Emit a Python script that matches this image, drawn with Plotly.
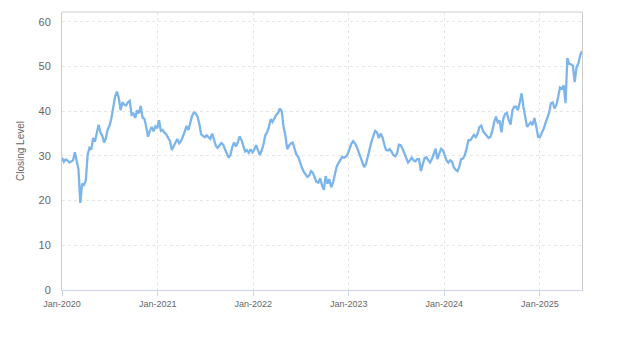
import pandas as pd
import plotly.graph_objects as go

# Weekly closing levels, Jan-2020 through mid Jun-2025
start_date = "2020-01-01"
closing_level = [
    # 2020
    29.6, 28.7, 29.2, 29.0, 28.5, 28.8, 29.0, 30.8, 28.6, 27.0,
    19.5, 23.8, 23.5, 24.5, 30.2, 31.8, 31.4, 34.0, 33.2, 35.1,
    37.0, 35.2, 34.5, 33.0, 34.0, 36.0, 36.8, 38.5, 40.8, 43.3,
    44.4, 43.0, 40.2, 42.0, 41.5, 41.3, 42.0, 42.3, 39.2, 39.5,
    38.5, 40.2, 39.5, 41.2, 38.6, 38.3, 36.5, 34.3, 35.6, 36.5,
    35.5, 36.6,
    # 2021
    36.2, 38.0, 35.6, 35.8, 35.2, 34.8, 34.0, 33.3,
    31.3, 32.0, 33.0, 33.8, 32.8, 33.3, 34.2, 35.4, 36.7, 35.8,
    37.3, 38.9, 39.7, 39.5, 38.8, 37.2, 34.8, 34.5, 34.2, 34.6,
    34.3, 33.8, 35.0, 33.5, 32.3, 31.8, 32.4, 32.9, 32.5, 31.4,
    30.3, 29.6, 30.2, 32.0, 33.0, 32.1, 33.0, 34.4, 33.6, 32.3,
    31.0, 31.3, 30.7, 31.5,
    # 2022
    30.8, 31.4, 32.4, 31.3, 30.2, 31.2,
    32.5, 34.6, 35.3, 36.5, 38.2, 37.6, 38.5, 39.2, 39.6, 40.6,
    40.0, 36.5, 34.6, 31.5, 32.3, 32.8, 33.0, 31.5, 30.3, 29.8,
    28.5, 27.4, 26.5, 26.0, 25.3, 25.6, 26.6, 26.2, 25.0, 24.2,
    24.0, 25.0, 23.4, 22.4, 25.5, 23.8, 24.8, 23.0, 24.0, 26.2,
    27.6, 28.4, 29.0, 29.8, 29.6, 29.8, 30.4,
    # 2023
    31.8, 32.7, 33.3,
    32.8, 32.0, 30.8, 29.5, 28.6, 27.5, 28.2, 30.2, 31.5, 33.2,
    34.5, 35.6, 35.3, 34.0, 35.0, 34.2, 32.6, 31.3, 31.2, 31.5,
    30.9, 30.2, 29.9, 30.6, 32.5, 32.4, 31.6, 30.6, 29.5, 28.5,
    29.0, 29.6, 29.0, 28.8, 29.3, 29.3, 26.6, 28.3, 29.5, 29.7,
    29.1, 28.5, 29.3, 30.6, 31.6, 29.3, 30.6, 31.6, 31.3,
    # 2024
    30.3,
    29.0, 28.5, 29.0, 28.7, 27.4, 26.9, 26.6, 27.6, 29.3, 29.4,
    30.2, 31.7, 33.5, 33.5, 34.2, 34.7, 34.2, 35.0, 36.5, 36.8,
    35.5, 35.0, 34.6, 34.0, 34.3, 35.6, 37.5, 38.8, 37.5, 37.9,
    35.3, 38.3, 39.4, 39.6, 38.0, 37.0, 40.2, 41.0, 41.0, 40.2,
    42.0, 44.0, 41.0, 38.8, 36.5, 37.0, 37.5, 36.9, 38.5, 36.6,
    34.3,
    # 2025
    34.2, 35.0, 36.0, 37.3, 38.3, 39.6, 41.8, 42.0, 40.6,
    41.4, 43.2, 45.3, 45.0, 45.8, 41.8, 51.9, 50.6, 50.5, 50.2,
    46.5, 49.8, 50.7, 52.5, 53.5,
]

dates = pd.date_range(start=start_date, periods=len(closing_level), freq="7D")

y_ticks = [0, 10, 20, 30, 40, 50, 60]
x_tick_dates = ["2020-01-01", "2021-01-01", "2022-01-01",
                "2023-01-01", "2024-01-01", "2025-01-01"]

fig = go.Figure(
    go.Scatter(
        x=dates,
        y=closing_level,
        mode="lines",
        line=dict(color="#7cb5ec", width=2.3),
        hoverinfo="x+y",
    )
)

fig.update_layout(
    width=623,
    height=350,
    margin=dict(l=62, r=41, t=12, b=60),
    paper_bgcolor="white",
    plot_bgcolor="white",
    showlegend=False,
    font=dict(family="Liberation Sans, Arial, sans-serif", color="#666666"),
    shapes=[
        dict(type="line", xref="paper", yref="paper", x0=0, x1=1, y0=1, y1=1,
             line=dict(color="#cccccc", width=1)),
    ],
)

fig.update_xaxes(
    type="date",
    range=[dates[0], dates[-1]],
    tickvals=x_tick_dates,
    tickformat="%b-%Y",
    tickfont=dict(size=9, color="#666666"),
    showgrid=True,
    gridcolor="#e6e6e6",
    griddash="3px,3px",
    gridwidth=1,
    showline=True,
    linecolor="#ccd6eb",
    linewidth=1,
    ticks="outside",
    ticklen=5,
    tickcolor="#ccd6eb",
    zeroline=False,
)

fig.update_yaxes(
    range=[0, 62.2],
    tickvals=y_ticks,
    tickfont=dict(size=11, color="#666666"),
    showgrid=True,
    gridcolor="#e6e6e6",
    griddash="3px,3px",
    gridwidth=1,
    showline=True,
    mirror=True,
    linecolor="#cccccc",
    linewidth=1,
    zeroline=False,
    ticks="",
    ticklabelstandoff=8,
    title=dict(text="Closing Level", font=dict(size=10, color="#666666"), standoff=12),
)

fig.write_html("out.html")
